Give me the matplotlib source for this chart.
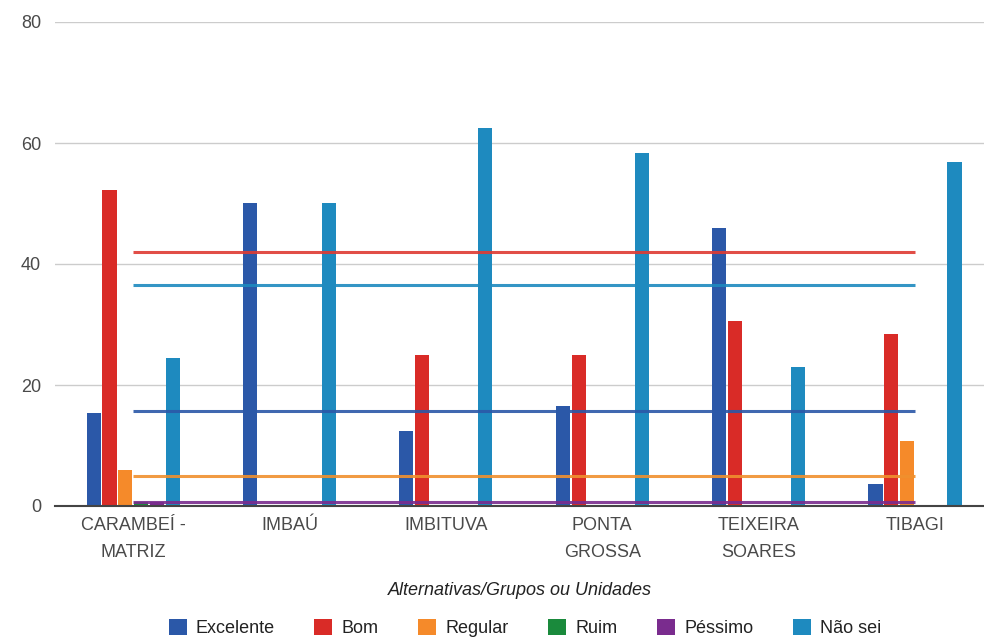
import numpy as np
import matplotlib.pyplot as plt
from matplotlib.patches import Patch

plt.rcParams['font.family'] = ['Liberation Sans', 'DejaVu Sans']

# grupos / unidades
grupos = ['CARAMBEÍ -\nMATRIZ', 'IMBAÚ', 'IMBITUVA', 'PONTA\nGROSSA',
          'TEIXEIRA\nSOARES', 'TIBAGI']

# respostas (%) por alternativa
excelente = [15.4, 50.0, 12.4, 16.6, 46.0, 3.6]
bom = [52.2, 0.0, 25.0, 25.0, 30.6, 28.4]
regular = [6.0, 0.0, 0.0, 0.0, 0.0, 10.8]
ruim = [0.6, 0.0, 0.0, 0.0, 0.0, 0.0]
pessimo = [0.6, 0.0, 0.0, 0.0, 0.0, 0.0]
nao_sei = [24.5, 50.0, 62.4, 58.3, 23.0, 56.9]

# linhas de referencia (geral)
geral_excelente = 15.7
geral_bom = 42.0
geral_regular = 5.0
geral_pessimo = 0.6
geral_nao_sei = 36.5

nomes = ['Excelente', 'Bom', 'Regular', 'Ruim', 'Péssimo', 'Não sei']
cores = ['#2b58a8', '#d92b27', '#f58a2a', '#1a8a3c', '#7a2c8e', '#1e8abf']
series = [excelente, bom, regular, ruim, pessimo, nao_sei]

fig = plt.figure(figsize=(9.84, 6.38), dpi=100)
ax = fig.add_axes([55/984, 1 - 506/638, 1 - 55/984, (506 - 22)/638])

x = np.arange(len(grupos))
passo = 0.101
largura = 0.09
for i, (vals, cor) in enumerate(zip(series, cores)):
    ax.bar(x + (i - 2.5) * passo, vals, width=largura, color=cor, zorder=2)

# linhas horizontais de referencia
for val, cor in [(geral_bom, '#de3b33'), (geral_nao_sei, '#1e8abf'),
                 (geral_excelente, '#2b58a8'), (geral_regular, '#f0902e'),
                 (geral_pessimo, '#7a2c8e')]:
    ax.plot(x, [val] * len(x), color=cor, lw=2.2, alpha=0.9, zorder=3,
            solid_capstyle='butt')

ax.set_xlim(-0.5, (984 - 133) / 156.4)
ax.set_ylim(0, 80)
ax.set_yticks([0, 20, 40, 60, 80])
ax.grid(axis='y', color='#cccccc', lw=1, zorder=0)
ax.set_axisbelow(True)
for s in ['top', 'right', 'left']:
    ax.spines[s].set_visible(False)
ax.spines['bottom'].set_color('#444444')
ax.spines['bottom'].set_linewidth(1.5)
ax.spines['bottom'].set_zorder(4)

ax.set_xticks(x)
ax.set_xticklabels(grupos, linespacing=1.75)
ax.tick_params(axis='both', length=0, labelsize=13, colors='#4a4a4a')
ax.tick_params(axis='x', pad=8)
ax.tick_params(axis='y', pad=10)

ax.set_xlabel('Alternativas/Grupos ou Unidades', fontsize=13,
              style='italic', color='#222222', labelpad=15)

handles = [Patch(facecolor=c, label=n) for n, c in zip(nomes, cores)]
fig.legend(handles=handles, loc='center', ncol=6,
           bbox_to_anchor=(525/984, 10/638), frameon=False, fontsize=13,
           handlelength=1.0, handleheight=1.0, handletextpad=0.5,
           columnspacing=2.2, labelcolor='#222222')

plt.savefig('out.png', dpi=100)
